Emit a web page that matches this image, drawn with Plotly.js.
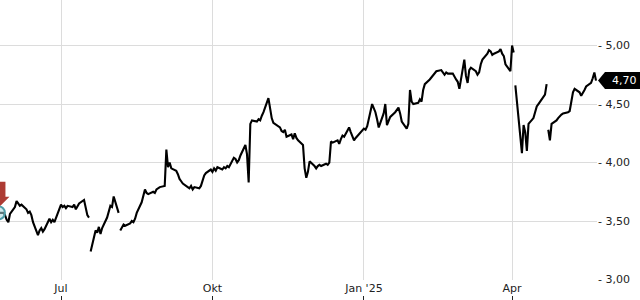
<!DOCTYPE html>
<html>
<head>
<meta charset="utf-8">
<script src="https://cdn.plot.ly/plotly-3.0.1.min.js"></script>
<style>html,body{margin:0;padding:0;background:#fff;}#chart{width:640px;height:300px;}</style>
</head>
<body>
<div id="chart"></div>
<script>
// First trading day of the series; one value per weekday, null = break in the line
const startDate = '2024-05-24';
const prices = [
  3.57,
  3.57, 3.55, 3.51, 3.49, 3.56,
  3.62, 3.67, 3.65, 3.63, 3.64,
  3.60, 3.57, 3.58, 3.55, 3.49,
  3.38, 3.42, 3.44, 3.41, 3.43,
  3.52, 3.49, 3.51, 3.49, 3.53,
  3.64, 3.62, 3.63, 3.61, 3.63,
  3.62, 3.64, 3.60, 3.63, 3.65,
  3.68, 3.60, 3.55, 3.53, null, 3.24,
  3.42, 3.40, 3.45, 3.39, 3.44,
  3.53, 3.58, 3.63, 3.62, 3.71,
  3.57, null, 3.42, 3.45, 3.47, 3.46,
  3.48, 3.50, 3.49, 3.52, 3.57,
  3.66, 3.72, 3.77, 3.74, 3.73,
  3.75, 3.74, 3.77, 3.78, 3.79,
  3.80, 4.11, 3.96, 4.00, 3.95,
  3.93, 3.90, 3.86, 3.84, 3.82,
  3.79, 3.78, 3.80, 3.77, 3.79,
  3.78, 3.80, 3.84, 3.89, 3.91,
  3.94, 3.92, 3.95, 3.93, 3.96,
  3.94, 3.96, 3.95, 3.97, 3.96,
  4.04, 4.03, 4.00, 4.02, 4.06,
  4.15, 4.07, 3.83, 4.33, 4.36,
  4.35, 4.37, 4.36, 4.40, 4.43,
  4.55, 4.45, 4.38, 4.34, 4.33,
  4.30, 4.27, 4.26, 4.28, 4.22,
  4.24, 4.20, 4.25, 4.21, 4.19,
  4.15, 3.95, 3.87, 3.92, 4.01,
  3.97, 3.95, 3.97, 3.98, 3.97,
  3.99, 3.98, 4.00, 4.18, 4.17,
  4.19, 4.16, 4.20, 4.23, 4.22,
  4.30, 4.26, 4.22, 4.19, 4.21,
  4.26, 4.28, 4.29, 4.28, 4.31,
  4.50, 4.46, 4.43, 4.37, 4.30,
  4.42, 4.50, 4.32, 4.36, 4.39,
  4.43, 4.45, 4.47, 4.42, 4.35,
  4.29, 4.33, 4.62, 4.52, 4.50,
  4.51, 4.54, 4.52, 4.62, 4.67,
  4.71, 4.73, 4.75, 4.76, 4.78,
  4.79, 4.77, 4.75, 4.77, 4.76,
  4.76, 4.73, 4.71, 4.69, 4.63,
  4.88, 4.74, 4.68, 4.79, 4.81,
  4.78, 4.75, 4.77, 4.84, 4.88,
  4.93, 4.96, 4.95, 4.92, 4.93,
  4.95, 4.97, 4.93, 4.91, 4.84,
  4.78, 5.00, 4.94, null, 4.66, 4.50,
  4.08, 4.32, 4.26, 4.10, 4.33,
  4.38, 4.44, 4.48, 4.50, 4.52,
  4.58, 4.67, null, 4.28, 4.19, 4.33,
  4.36, 4.38, 4.40, 4.41, 4.42,
  4.43, 4.44, 4.52, 4.60, 4.63,
  4.60, 4.57, 4.59, 4.62, 4.65,
  4.68, 4.72, 4.77, 4.70
];
const monthTickVals = ['2024-07-01', '2024-10-01', '2025-01-01', '2025-04-01'];
const monthTickText = ['Jul', 'Okt', "Jan '25", 'Apr'];
const priceTickVals = [3.0, 3.5, 4.0, 4.5, 5.0];
const xRange = ['2024-05-24 22:35', '2025-05-22 14:24'];
const yRange = [2.996, 5.389];

// build weekday date axis
function fmt(d) {
  const p = n => String(n).padStart(2, '0');
  return d.getUTCFullYear() + '-' + p(d.getUTCMonth() + 1) + '-' + p(d.getUTCDate());
}
const dates = [];
let cur = new Date(startDate + 'T00:00:00Z');
let first = true;
for (const v of prices) {
  if (v === null) { dates.push(fmt(cur) + ' 12:00'); continue; }
  if (!first) {
    do { cur = new Date(cur.getTime() + 86400000); } while (cur.getUTCDay() === 0 || cur.getUTCDay() === 6);
  }
  first = false;
  dates.push(fmt(cur));
}
const lastIdx = prices.length - 1;
const lastVal = prices[lastIdx];
const comma = v => v.toFixed(2).replace('.', ',');

const font = {family: 'DejaVu Sans', size: 11, color: '#222'};

const traces = [
  {x: dates, y: prices, type: 'scatter', mode: 'lines', connectgaps: false,
   line: {color: '#000', width: 2.1}, hoverinfo: 'skip', showlegend: false},
  {x: [dates[0]], y: [prices[0]], type: 'scatter', mode: 'markers',
   marker: {size: 13, color: 'rgba(170,215,220,0.55)', line: {color: '#4f9ea8', width: 2}},
   hoverinfo: 'skip', showlegend: false},
  {x: [dates[0]], y: [prices[0]], xaxis: 'x2', type: 'scatter', mode: 'markers',
   marker: {opacity: 0}, hoverinfo: 'skip', showlegend: false}
];

const layout = {
  width: 640, height: 300,
  margin: {l: 0, r: 43, t: 0, b: 0},
  paper_bgcolor: '#fff', plot_bgcolor: '#fff',
  showlegend: false,
  xaxis: {type: 'date', range: xRange, tickvals: monthTickVals, ticktext: monthTickText,
          showgrid: true, gridcolor: '#dcdcdc', gridwidth: 1, zeroline: false, showline: false,
          ticks: '', tickfont: font, fixedrange: true},
  xaxis2: {type: 'date', overlaying: 'x', anchor: 'free', position: 0, range: xRange,
           tickvals: monthTickVals, showticklabels: false, showgrid: false, zeroline: false,
           showline: false, ticks: 'inside', ticklen: 4, tickwidth: 1, tickcolor: '#222'},
  yaxis: {side: 'right', range: yRange, domain: [20 / 300, 1],
          tickvals: priceTickVals, ticktext: priceTickVals.map(v => '- ' + comma(v)),
          showgrid: true, gridcolor: '#dcdcdc', gridwidth: 1, zeroline: false, showline: false,
          ticks: '', tickfont: font, fixedrange: true},
  shapes: [
    {type: 'path', xref: 'x', yref: 'y', xsizemode: 'pixel', ysizemode: 'pixel',
     xanchor: dates[0], yanchor: prices[0],
     path: 'M -3,16 L -3,31 L 7,31 L 7,16 L 11,16 L 2,7 L -7,16 Z',
     fillcolor: '#ad3b33', line: {width: 0}},
    {type: 'path', xref: 'paper', yref: 'y', xsizemode: 'pixel', ysizemode: 'pixel',
     xanchor: 1, yanchor: lastVal,
     path: 'M 1,0 L 8,8.5 L 43,8.5 L 43,-8.5 L 8,-8.5 Z',
     fillcolor: '#000', line: {width: 0}}
  ],
  annotations: [
    {xref: 'paper', yref: 'y', x: 1, y: lastVal, xanchor: 'left', yanchor: 'middle',
     xshift: 13, text: comma(lastVal), showarrow: false,
     font: {family: 'DejaVu Sans', size: 11, color: '#fff'}}
  ]
};

Plotly.newPlot('chart', traces, layout, {displayModeBar: false, staticPlot: true});
</script>
</body>
</html>
